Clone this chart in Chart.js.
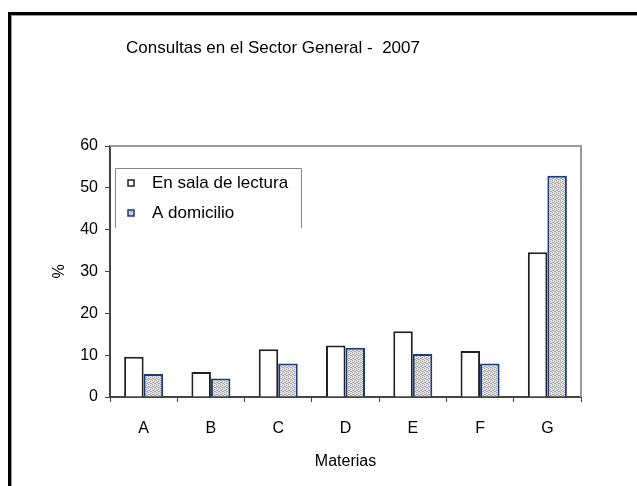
<!DOCTYPE html>
<html>
<head>
<meta charset="utf-8">
<script src="https://cdn.jsdelivr.net/npm/chart.js@4"></script>
<style>
  html, body { margin: 0; padding: 0; background: #fff; }
  #wrap { width: 637px; height: 486px; }
</style>
</head>
<body>
<div id="wrap"><canvas id="myChart" width="637" height="486"></canvas></div>
<script>
// Data
const materias = ['A', 'B', 'C', 'D', 'E', 'F', 'G'];
const enSala = [9.6, 6.0, 11.4, 12.3, 15.7, 11.0, 34.6];
const aDomicilio = [5.5, 4.4, 8.0, 11.8, 10.3, 8.0, 52.9];
const yTicks = [0, 10, 20, 30, 40, 50, 60];

const FONT = "'Liberation Sans', Arial, sans-serif";

// dotted grey fill like the Excel pattern
function makePattern() {
  const c = document.createElement('canvas');
  c.width = 4; c.height = 4;
  const g = c.getContext('2d');
  g.fillStyle = '#e2e2e2';
  g.fillRect(0, 0, 4, 4);
  g.fillStyle = '#a8a8a8';
  [[0,0],[2,1],[1,2],[3,3],[2,3],[0,2]].forEach(p => g.fillRect(p[0], p[1], 1, 1));
  return g.createPattern(c, 'repeat');
}
const greyFill = makePattern();

// outer frame, plot box, title and legend drawn by hand
const decor = {
  id: 'decor',
  beforeDraw(chart) {
    const ctx = chart.ctx;
    ctx.save();
    ctx.fillStyle = '#fff';
    ctx.fillRect(0, 0, chart.width, chart.height);
    ctx.strokeStyle = '#000';
    ctx.lineWidth = 3;
    ctx.strokeRect(9.5, 13.5, 700, 600);
    ctx.strokeStyle = '#999';
    ctx.lineWidth = 1;
    ctx.strokeRect(11.5, 15.5, 700, 600);
    ctx.restore();
  },
  afterDatasetsDraw(chart) {
    const ctx = chart.ctx;
    const a = chart.chartArea;
    ctx.save();
    // top and right border of the plot
    ctx.strokeStyle = '#9a9a9a';
    ctx.lineWidth = 2;
    ctx.beginPath();
    ctx.moveTo(a.left, a.top);
    ctx.lineTo(a.right, a.top);
    ctx.lineTo(a.right, a.bottom);
    ctx.stroke();

    // title
    ctx.fillStyle = '#000';
    ctx.font = '17px ' + FONT;
    ctx.textAlign = 'center';
    ctx.textBaseline = 'middle';
    ctx.fillText('Consultas en el Sector General -  2007', 273, 48);

    // legend box (bottom edge missing, as in the source)
    ctx.strokeStyle = '#8a8a8a';
    ctx.lineWidth = 1;
    ctx.beginPath();
    ctx.moveTo(115.5, 228);
    ctx.lineTo(115.5, 168.5);
    ctx.lineTo(301.5, 168.5);
    ctx.lineTo(301.5, 228);
    ctx.stroke();

    const items = chart.data.datasets;
    const rows = [183, 213];
    ctx.font = '17px ' + FONT;
    ctx.textAlign = 'left';
    items.forEach((ds, i) => {
      const y = rows[i];
      ctx.fillStyle = i === 0 ? '#fff' : greyFill;
      ctx.fillRect(128, y - 3, 6, 6);
      ctx.strokeStyle = ds.borderColor;
      ctx.lineWidth = 1.5;
      ctx.strokeRect(128, y - 3, 6, 6);
      ctx.fillStyle = '#000';
      ctx.fillText(ds.label, 152, y);
    });
    ctx.restore();
  }
};

const config = {
  type: 'bar',
  data: {
    labels: materias,
    datasets: [
      {
        label: 'En sala de lectura',
        data: enSala,
        backgroundColor: '#fff',
        borderColor: '#222',
        borderWidth: 2,
        categoryPercentage: 0.58,
        barPercentage: 1.0,
      },
      {
        label: 'A domicilio',
        data: aDomicilio,
        backgroundColor: greyFill,
        borderColor: '#1d3a7a',
        borderWidth: 2,
        categoryPercentage: 0.58,
        barPercentage: 1.0,
      }
    ]
  },
  options: {
    responsive: false,
    animation: false,
    events: [],
    layout: { padding: { left: 0, top: 146, right: 56, bottom: 0 } },
    plugins: {
      legend: { display: false },
      title: { display: false },
      tooltip: { enabled: false },
    },
    scales: {
      x: {
        grid: {
          display: true, drawOnChartArea: false, drawTicks: true,
          tickLength: 5, color: '#444', offset: true,
        },
        border: { display: true, color: '#444', width: 2 },
        ticks: { color: '#000', padding: 17, font: { family: FONT, size: 16 } },
        title: {
          display: true, text: 'Materias', color: '#000',
          font: { family: FONT, size: 16 },
          padding: { top: 0, bottom: 15 },
        },
        afterFit(scale) { scale.height = 89; },
      },
      y: {
        min: 0, max: 60,
        afterBuildTicks(scale) { scale.ticks = yTicks.map(v => ({ value: v })); },
        grid: {
          display: true, drawOnChartArea: false, drawTicks: true,
          tickLength: 5, color: '#444',
        },
        border: { display: true, color: '#444', width: 2 },
        ticks: { color: '#000', padding: 7, font: { family: FONT, size: 16 } },
        title: {
          display: true, text: '%', color: '#000',
          font: { family: FONT, size: 16 },
          padding: { top: 50, bottom: 0 },
        },
        afterFit(scale) { scale.width = 110; },
      }
    }
  },
  plugins: [decor],
};

window.onload = function() {
  const ctx = document.getElementById('myChart').getContext('2d');
  new Chart(ctx, config);
};
</script>
</body>
</html>
